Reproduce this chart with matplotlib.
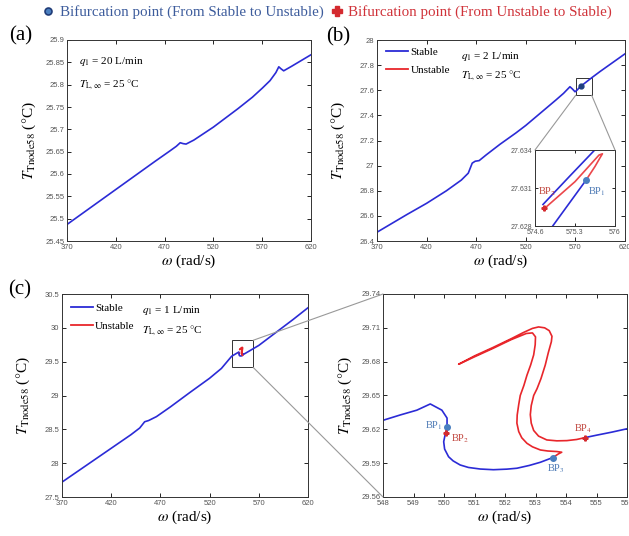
import numpy as np
import matplotlib
matplotlib.use("Agg")
import matplotlib.pyplot as plt
from matplotlib.patches import Rectangle, ConnectionPatch
from matplotlib.lines import Line2D
from matplotlib.ticker import FormatStrFormatter

plt.rcParams['font.family'] = ['Liberation Serif', 'DejaVu Serif']
plt.rcParams['mathtext.fontset'] = 'stix'

STABLE = '#2b2bd6'
UNSTABLE = '#e8262b'
BP_BLUE = '#4a7fc0'
BP_RED = '#d42a2f'
LBL_BLUE = '#4a78b4'
LBL_RED = '#c0443c'

W, H = 629, 536

# ---- panel (a): q1 = 20 L/min
a_omega = [370, 400, 430, 460, 475, 482, 486, 489, 492, 500, 520, 545, 560, 570,
           578, 584, 587, 589, 592, 600, 610, 620]
a_T = [25.487, 25.534, 25.581, 25.628, 25.651, 25.662, 25.670, 25.668, 25.667, 25.676,
       25.705, 25.746, 25.772, 25.792, 25.809, 25.827, 25.840, 25.836, 25.831, 25.841,
       25.854, 25.867]

# ---- panel (b): q1 = 2 L/min
b_omega_left = [370, 400, 420, 440, 455, 462, 466, 469, 473, 480, 494, 510, 520, 535,
                550, 558, 564.5, 567, 569.6, 571.5]
b_T_left = [26.47, 26.61, 26.70, 26.80, 26.885, 26.94, 27.02, 27.035, 27.04, 27.085,
            27.17, 27.26, 27.32, 27.42, 27.52, 27.575, 27.628, 27.61, 27.588, 27.60]
# zoomed loop around BP1 / BP2
bi_omega_s1 = [574.91, 575.2, 575.49]
bi_T_s1 = [27.628, 27.6298, 27.6316]
bi_omega_u = [575.49, 575.65, 575.74, 575.78, 575.72, 575.3, 574.77]
bi_T_u = [27.6316, 27.6327, 27.6334, 27.6337, 27.6336, 27.6315, 27.6294]
bi_omega_s2 = [574.74, 575.2, 575.73, 576.2]
bi_T_s2 = [27.6297, 27.6319, 27.6344, 27.6366]
b_omega_right = [580, 586, 595, 605, 620]
b_T_right = [27.66, 27.697, 27.75, 27.806, 27.89]
b_bp1 = (575.49, 27.6316)
b_bp2 = (574.76, 27.6294)
b_box = (570.3, 27.56, 586.4, 27.70)

# ---- panel (c): q1 = 1 L/min
c_omega_left = [370, 395, 420, 440, 449, 454, 458, 466, 480, 500, 520, 532, 542.4]
c_T_left = [27.72, 27.97, 28.22, 28.42, 28.52, 28.612, 28.63, 28.688, 28.83, 29.045,
            29.255, 29.40, 29.58]
c_omega_right = [570, 590, 605, 620]
c_T_right = [29.74, 29.96, 30.125, 30.297]
c_box = (543.0, 29.415, 564.3, 29.816)

# ---- zoom of (c)
d_omega_s1 = [548, 548.56, 549.11, 549.55, 549.93, 550.1, 550.1]
d_T_s1 = [29.628, 29.6327, 29.637, 29.6425, 29.637, 29.630, 29.6222]
d_omega_u1 = [550.1, 550.08, 550.05]
d_T_u1 = [29.6222, 29.620, 29.617]
d_omega_s2 = [550.05, 549.99, 550.02, 550.15, 550.3, 550.53, 550.8, 551.19, 551.62,
              552.06, 552.39, 552.8, 553.16, 553.57]
d_T_s2 = [29.617, 29.609, 29.6025, 29.5957, 29.592, 29.5884, 29.5862, 29.5848, 29.5842,
          29.5847, 29.5855, 29.588, 29.5908, 29.595]
d_omega_u2 = [553.57, 553.75, 553.86, 553.7, 553.4, 553.16, 552.9, 552.72, 552.55,
              552.45, 552.39, 552.40, 552.45, 552.5, 552.62, 552.72, 552.84, 552.94,
              552.99, 553.0, 552.9, 552.7, 552.2, 551.6, 551.0, 550.48,
              551.0, 551.6, 552.2, 552.6, 552.9, 553.1, 553.3, 553.45, 553.54, 553.52,
              553.42, 553.32, 553.18, 553.05, 552.94, 552.86, 552.83, 552.86, 552.94,
              553.1, 553.37, 553.7, 554.03, 554.35, 554.63]
d_T_u2 = [29.595, 29.5982, 29.5997, 29.6003, 29.6008, 29.6017, 29.6045, 29.6076, 29.6125,
          29.618, 29.6255, 29.6327, 29.642, 29.650, 29.659, 29.668, 29.677, 29.686,
          29.695, 29.702, 29.7055, 29.705, 29.6995, 29.6917, 29.6843, 29.6777,
          29.6851, 29.6925, 29.7003, 29.7058, 29.7095, 29.7108, 29.710, 29.7075, 29.7025,
          29.6977, 29.688, 29.677, 29.665, 29.656, 29.650, 29.641, 29.633, 29.6255,
          29.619, 29.614, 29.6106, 29.6098, 29.610, 29.611, 29.6127]
d_omega_s3 = [554.63, 555.0, 555.5, 556.0]
d_T_s3 = [29.6127, 29.6148, 29.6175, 29.6205]
d_bp_stable = {'BP$_1$': (550.1, 29.6222), 'BP$_3$': (553.57, 29.595)}
d_bp_unstable = {'BP$_2$': (550.05, 29.617), 'BP$_4$': (554.63, 29.6127)}

fig = plt.figure(figsize=(W / 100, H / 100), dpi=100)


def px_axes(left, top, right, bottom):
    return fig.add_axes([left / W, 1 - bottom / H, (right - left) / W, (bottom - top) / H])


def style(ax, xlim, ylim, xticks, yticks, size=5.5):
    ax.set_xlim(xlim)
    ax.set_ylim(ylim)
    ax.set_xticks(xticks)
    ax.set_yticks(yticks)
    ax.xaxis.set_major_formatter(FormatStrFormatter('%g'))
    ax.yaxis.set_major_formatter(FormatStrFormatter('%g'))
    ax.tick_params(direction='in', top=True, right=True, length=3, width=0.6,
                   labelsize=size, labelcolor='#555555',
                   labelfontfamily='Liberation Sans', pad=2)
    for s in ax.spines.values():
        s.set_linewidth(0.7)
        s.set_color('#333333')


def labels(ax):
    ax.set_xlabel(r'$\omega$ (rad/s)', fontsize=11, labelpad=1)
    ax.set_ylabel(r'$T_{\mathrm{Tnode58}}$ ($\degree$C)', fontsize=11)
    ax.yaxis.set_label_coords(-0.12, 0.5)


def conditions(ax, x, y1, y2, q):
    ax.text(x, y1, r'$q_1$ = %s L/min' % q, transform=ax.transAxes, fontsize=8, va='center')
    ax.text(x, y2, r'$T_{\mathrm{L},\infty}$ = 25 $\degree$C', transform=ax.transAxes,
            fontsize=8, va='center')


def stab_legend(ax, x, y):
    hs = [Line2D([], [], color=STABLE, lw=1.3), Line2D([], [], color=UNSTABLE, lw=1.3)]
    ax.legend(hs, ['Stable', 'Unstable'], loc='upper left', bbox_to_anchor=(x, y),
              frameon=False, fontsize=8, handlelength=2.0, handletextpad=0.2,
              labelspacing=0.75, borderpad=0, borderaxespad=0)


# (a)
ax_a = px_axes(67, 40, 311, 241)
ax_a.plot(a_omega, a_T, color=STABLE, lw=1.2)
style(ax_a, (370, 620), (25.45, 25.9), np.arange(370, 621, 50), np.arange(25.45, 25.91, 0.05))
labels(ax_a)
conditions(ax_a, 0.05, 0.895, 0.776, '20')

# (b)
ax_b = px_axes(377, 40, 625, 241)
ax_b.plot(b_omega_left + bi_omega_s1, b_T_left + bi_T_s1, color=STABLE, lw=1.2)
ax_b.plot(bi_omega_u, bi_T_u, color=UNSTABLE, lw=1.2)
ax_b.plot(bi_omega_s2 + b_omega_right, bi_T_s2 + b_T_right, color=STABLE, lw=1.2)
ax_b.plot(*b_bp1, 'o', ms=3.5, color='#1f3f80')
ax_b.add_patch(Rectangle((b_box[0], b_box[1]), b_box[2] - b_box[0], b_box[3] - b_box[1],
                         fill=False, ec='#333333', lw=0.7))
style(ax_b, (370, 620), (26.4, 28), np.arange(370, 621, 50), np.arange(26.4, 28.01, 0.2))
labels(ax_b)
stab_legend(ax_b, 0.037, 0.965)
conditions(ax_b, 0.34, 0.92, 0.82, '2')

# inset of (b)
ax_bi = px_axes(535, 150, 615, 226)
ax_bi.plot(b_omega_left + bi_omega_s1, b_T_left + bi_T_s1, color=STABLE, lw=1.2)
ax_bi.plot(bi_omega_s2 + b_omega_right, bi_T_s2 + b_T_right, color=STABLE, lw=1.2)
ax_bi.plot(bi_omega_u, bi_T_u, color=UNSTABLE, lw=1.2, alpha=0.85)
ax_bi.plot(*b_bp1, 'o', ms=4, color=BP_BLUE)
ax_bi.plot(*b_bp2, 'P', ms=3.5, color=BP_RED)
ax_bi.text(574.65, 27.6307, 'BP$_2$', color=LBL_RED, fontsize=7.5, va='center')
ax_bi.text(575.53, 27.6307, 'BP$_1$', color=LBL_BLUE, fontsize=7.5, va='center')
style(ax_bi, (574.6, 576), (27.628, 27.634), [574.6, 575.3, 576], [27.628, 27.631, 27.634],
      size=5)
ax_bi.tick_params(length=2)
for (xa, xb) in [(b_box[0], 0), (b_box[2], 1)]:
    fig.add_artist(ConnectionPatch(xyA=(xa, b_box[1]), coordsA=ax_b.transData,
                                   xyB=(xb, 1), coordsB=ax_bi.transAxes,
                                   color='#999999', lw=0.8))

# (c)
ax_c = px_axes(62, 294, 308, 497)
ax_c.plot(c_omega_left + d_omega_s1, c_T_left + d_T_s1, color=STABLE, lw=1.2)
ax_c.plot(d_omega_u1, d_T_u1, color=UNSTABLE, lw=1.2)
ax_c.plot(d_omega_s2, d_T_s2, color=STABLE, lw=1.2)
ax_c.plot(d_omega_u2, d_T_u2, color=UNSTABLE, lw=1.2)
ax_c.plot(d_omega_s3 + c_omega_right, d_T_s3 + c_T_right, color=STABLE, lw=1.2)
ax_c.add_patch(Rectangle((c_box[0], c_box[1]), c_box[2] - c_box[0], c_box[3] - c_box[1],
                         fill=False, ec='#333333', lw=0.7))
style(ax_c, (370, 620), (27.5, 30.5), np.arange(370, 621, 50), np.arange(27.5, 30.51, 0.5))
labels(ax_c)
stab_legend(ax_c, 0.035, 0.955)
conditions(ax_c, 0.324, 0.92, 0.82, '1')

# zoom of (c)
ax_d = px_axes(383, 294, 627, 497)
ax_d.plot(d_omega_s1, d_T_s1, color=STABLE, lw=1.2)
ax_d.plot(d_omega_u1, d_T_u1, color=UNSTABLE, lw=1.2)
ax_d.plot(d_omega_s2, d_T_s2, color=STABLE, lw=1.2)
ax_d.plot(d_omega_u2, d_T_u2, color=UNSTABLE, lw=1.2)
ax_d.plot(d_omega_s3, d_T_s3, color=STABLE, lw=1.2)
for name, (x, y) in d_bp_stable.items():
    ax_d.plot(x, y, 'o', ms=4, color=BP_BLUE)
for name, (x, y) in d_bp_unstable.items():
    ax_d.plot(x, y, 'P', ms=3.5, color=BP_RED)
ax_d.text(549.95, 29.6235, 'BP$_1$', color=LBL_BLUE, fontsize=7.5, ha='right', va='center')
ax_d.text(550.22, 29.612, 'BP$_2$', color=LBL_RED, fontsize=7.5, ha='left', va='center')
ax_d.text(553.68, 29.5847, 'BP$_3$', color=LBL_BLUE, fontsize=7.5, ha='center', va='center')
ax_d.text(554.55, 29.6205, 'BP$_4$', color=LBL_RED, fontsize=7.5, ha='center', va='center')
style(ax_d, (548, 556), (29.56, 29.74), np.arange(548, 557, 1), np.arange(29.56, 29.741, 0.03))
labels(ax_d)
for yb, yd in [(c_box[3], 1), (c_box[1], 0)]:
    fig.add_artist(ConnectionPatch(xyA=(c_box[2], yb), coordsA=ax_c.transData,
                                   xyB=(0, yd), coordsB=ax_d.transAxes,
                                   color='#999999', lw=0.8))

# panel letters
for lbl, (x, y) in {'(a)': (21, 36), '(b)': (338, 37), '(c)': (20, 290)}.items():
    fig.text(x / W, 1 - y / H, lbl, fontsize=15, ha='center', va='center')

# top legend
h_s = Line2D([], [], ls='none', marker='o', ms=5, mfc=BP_BLUE, mec='#203c78', mew=1.2)
h_u = Line2D([], [], ls='none', marker='P', ms=6.5, color=BP_RED)
leg = fig.legend([h_s, h_u], ['Bifurcation point (From Stable to Unstable)',
                              'Bifurcation point (From Unstable to Stable)'],
                 loc='center', bbox_to_anchor=(0.52, 1 - 12 / H), ncol=2, frameon=False,
                 fontsize=10.8, handlelength=0.8, handletextpad=0.35, columnspacing=0.5)
for t, c in zip(leg.get_texts(), ['#3d5c9c', '#d0333a']):
    t.set_color(c)

fig.savefig('out.png', dpi=100)
